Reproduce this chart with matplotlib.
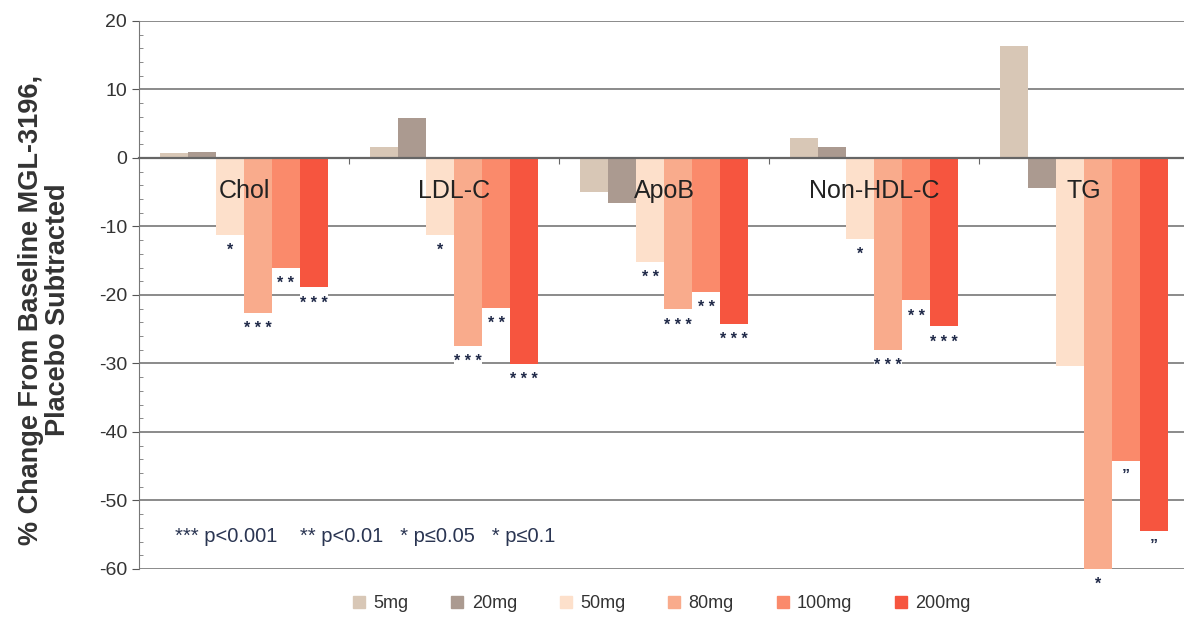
import numpy as np
import matplotlib.pyplot as plt
from matplotlib.lines import Line2D

plt.rcParams['font.family'] = ['Liberation Sans', 'DejaVu Sans']
plt.rcParams['axes.unicode_minus'] = False

# --- data ---
categories = ["Chol", "LDL-C", "ApoB", "Non-HDL-C", "TG"]
doses = ["5mg", "20mg", "50mg", "80mg", "100mg", "200mg"]

vals_5mg = [0.7, 1.6, -4.9, 2.9, 16.3]
vals_20mg = [0.9, 5.9, -6.6, 1.6, -4.4]
vals_50mg = [-11.2, -11.2, -15.2, -11.8, -30.3]
vals_80mg = [-22.6, -27.4, -22.1, -28.0, -60.0]
vals_100mg = [-16.0, -21.9, -19.5, -20.8, -44.2]
vals_200mg = [-18.9, -30.1, -24.2, -24.6, -54.4]

stars_50mg = ["*", "*", "**", "*", ""]
stars_80mg = ["***", "***", "***", "***", "*"]
stars_100mg = ["**", "**", "**", "**", "\u201d"]
stars_200mg = ["***", "***", "***", "***", "\u201d"]

series = [vals_5mg, vals_20mg, vals_50mg, vals_80mg, vals_100mg, vals_200mg]
stars = [None, None, stars_50mg, stars_80mg, stars_100mg, stars_200mg]
colors = ["#d8c7b6", "#ab9a90", "#fde0cb", "#f9ab8c", "#fa8a6b", "#f6553f"]

STAR_COLOR = "#1e2847"
BAR_W = 0.1333

fig = plt.figure(figsize=(11.84, 6.19), dpi=100)
ax = fig.add_axes([0.1174, 0.0808, 0.8826, 0.8853])

x = np.arange(len(categories))
for i, (vals, col) in enumerate(zip(series, colors)):
    xs = x + (i - 2.5) * BAR_W
    ax.bar(xs, vals, width=BAR_W, color=col, zorder=2, label=doses[i])
    if stars[i] is None:
        continue
    for xi, v, s in zip(xs, vals, stars[i]):
        if not s:
            continue
        # white patch under the bar hides the gridline behind the marks
        ax.bar(xi, -3.6, bottom=v, width=BAR_W, color="white", zorder=1)
        txt = " ".join(s) if s.startswith("*") else s
        ax.text(xi, v - 1.2, txt, ha="center", va="top", fontsize=11.5,
                fontweight="bold", color=STAR_COLOR, zorder=4, clip_on=False)

# category names inside the plot
for xi, name in zip(x, categories):
    ax.text(xi, -4.8, name, ha="center", va="center", fontsize=18,
            color="#222222", zorder=5)

ax.text(-0.33, -55.3, "*** p<0.001    ** p<0.01   * p\u22640.05   * p\u22640.1",
        ha="left", va="center", fontsize=14.5, color="#2a3552")

ax.set_xlim(-0.5, 4.476)
ax.set_ylim(-60, 20)
ax.set_yticks(np.arange(-60, 21, 10))
ax.set_yticks(np.arange(-60, 21, 2), minor=True)
ax.tick_params(axis="y", which="major", direction="out", length=5,
               labelsize=14, colors="#555555", labelcolor="#333333")
ax.tick_params(axis="y", which="minor", direction="in", length=3, colors="#777777")

ax.set_axisbelow(True)
ax.yaxis.grid(True, color="#8a8a8a", linewidth=1.4)

ax.spines["top"].set_visible(False)
ax.spines["right"].set_visible(False)
ax.spines["left"].set_color("#777777")
ax.spines["bottom"].set_position(("data", 0))
ax.spines["bottom"].set_color("#666666")
ax.spines["bottom"].set_linewidth(1.6)
ax.set_xticks([0.5, 1.5, 2.5, 3.5])
ax.set_xticklabels([])
ax.tick_params(axis="x", direction="out", length=4, color="#666666")

fig.text(0.038, 0.50, "% Change From Baseline MGL-3196,\nPlacebo Subtracted",
         rotation=90, ha="center", va="center", fontsize=19.5, fontweight="bold",
         color="#333333", multialignment="center", linespacing=1.05)

handles = [Line2D([], [], marker="s", linestyle="none", markersize=9,
                  markerfacecolor=c, markeredgecolor=c) for c in colors]
fig.legend(handles, doses, loc="center", bbox_to_anchor=(0.557, 0.025),
           ncol=6, frameon=False, fontsize=13, handletextpad=0.2,
           handlelength=1.2, columnspacing=2.1, labelcolor="#333333")

fig.savefig("out.png", dpi=100, facecolor="white")
